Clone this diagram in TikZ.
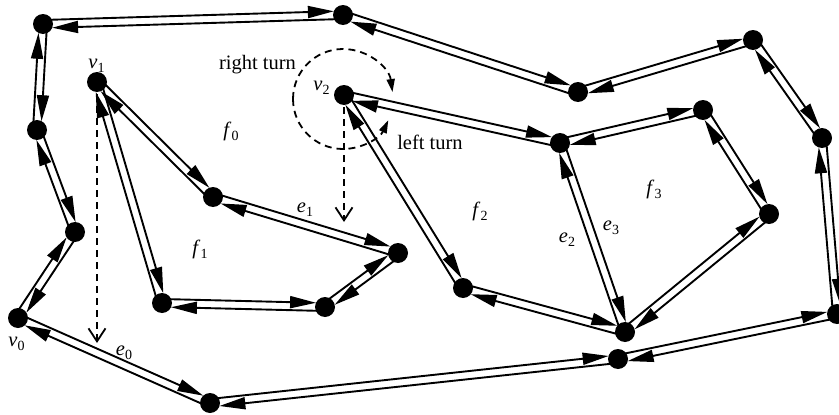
\documentclass[tikz,border=0pt]{standalone}
\usepackage{fontspec}
\setmainfont{Liberation Serif}
\usetikzlibrary{arrows.meta,calc}
\newcommand\sym[2]{\textit{#1}\kern0.3pt\raisebox{-4pt}{\fontsize{14}{14}\selectfont #2}}
\newcommand\hedge[2]{\draw[hedge] ($(#1)!4pt!90:(#2)$) -- ($(#2)!4pt!-90:(#1)$);}
\newcommand\epair[2]{\hedge{#1}{#2}\hedge{#2}{#1}}
\begin{document}
\begin{tikzpicture}[x=1pt,y=1pt,
  hedge/.style={line width=1.9pt, -{Triangle[length=26pt,width=12pt]}, shorten >=9pt},
  vtx/.style={circle, fill=black, inner sep=0pt, minimum size=20pt},
  lbl/.style={anchor=base, inner sep=0pt, font=\fontsize{20.5}{24}\selectfont},
  dasharr/.style={line width=1.8pt, dash pattern=on 7pt off 5pt, -{Straight Barb[length=13pt,width=17pt]}},
  turn/.style={line width=1.8pt, dash pattern=on 7pt off 5pt, -{Triangle[length=13pt,width=8pt]}}]
\useasboundingbox (0,0) rectangle (839,-415);
% vertices
\coordinate (A) at (43,-24);
\coordinate (B) at (343,-15);
\coordinate (C) at (578,-92);
\coordinate (D) at (753,-40);
\coordinate (E) at (822,-138);
\coordinate (F) at (837,-314);
\coordinate (G) at (618,-359);
\coordinate (H) at (210,-403);
\coordinate (V0) at (18,-318);
\coordinate (I) at (75,-232);
\coordinate (J) at (37,-130);
\coordinate (V1) at (97,-82);
\coordinate (K) at (213,-197);
\coordinate (L) at (398,-253);
\coordinate (M) at (325,-307);
\coordinate (N) at (162,-303);
\coordinate (V2) at (344,-95);
\coordinate (P) at (560,-143);
\coordinate (Q) at (703,-110);
\coordinate (R) at (769,-214);
\coordinate (S) at (625,-332);
\coordinate (T) at (463,-288);
\coordinate (d1) at (97,-343);
\coordinate (d2) at (344,-222);
\coordinate (ctr) at (343,-99);
% half-edge pairs
\epair{A}{B}\epair{B}{C}\epair{C}{D}\epair{D}{E}\epair{E}{F}\epair{F}{G}
\epair{G}{H}\epair{H}{V0}\epair{V0}{I}\epair{I}{J}\epair{J}{A}
\epair{V1}{K}\epair{K}{L}\epair{L}{M}\epair{M}{N}\epair{N}{V1}
\epair{V2}{P}\epair{P}{Q}\epair{Q}{R}\epair{R}{S}\epair{S}{T}\epair{T}{V2}\epair{P}{S}
% dashed arrows
\draw[dasharr] (V1) -- (d1);
\draw[dasharr] (V2) -- (d2);
% turn circle
\draw[turn] ($(ctr)+(180:50)$) arc[start angle=180, end angle=8, radius=50pt];
\draw[turn] ($(ctr)+(180:50)$) arc[start angle=180, end angle=335, radius=50pt];
% vertex dots
\foreach \v in {A,B,C,D,E,F,G,H,V0,I,J,V1,K,L,M,N,V2,P,Q,R,S,T}
  \node[vtx] (n\v) at (\v) {};
% labels
\node[lbl] (tr) at (257.5,-69) {right turn};
\node[lbl] (tl) at (430,-149) {left turn};
\node[lbl] (lv1) at (96.5,-68) {\sym{v}{1}};
\node[lbl] (lv2) at (321.5,-90) {\sym{v}{2}};
\node[lbl] (lv0) at (16.5,-346) {\sym{v}{0}};
\node[lbl] (le0) at (124,-355) {\sym{e}{0}};
\node[lbl] (le1) at (305,-212) {\sym{e}{1}};
\node[lbl] (le2) at (567,-242) {\sym{e}{2}};
\node[lbl] (le3) at (611,-230) {\sym{e}{3}};
\node[lbl] (lf0) at (231,-136) {\sym{f}{0}};
\node[lbl] (lf1) at (200,-254) {\sym{f}{1}};
\node[lbl] (lf2) at (480,-216) {\sym{f}{2}};
\node[lbl] (lf3) at (654,-194) {\sym{f}{3}};
\end{tikzpicture}
\end{document}
